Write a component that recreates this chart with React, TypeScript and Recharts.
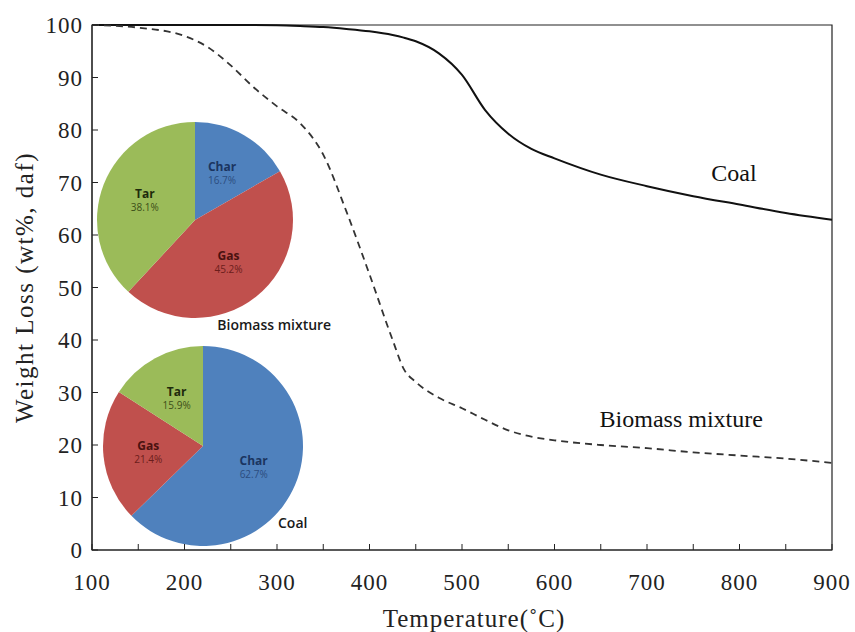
import { LineChart, Line, XAxis, YAxis, ReferenceArea, ReferenceDot, PieChart, Pie, Cell } from 'recharts';

// TGA curves: temperature (°C) vs remaining weight (wt%, daf)
const TEMPS = [100, 150, 200, 225, 250, 275, 300, 325, 350, 375, 400, 425, 437, 450, 475, 500, 525, 550, 575, 600, 650, 700, 750, 800, 850, 900];
const COAL = [100, 100, 100, 100, 100, 100, 99.95, 99.8, 99.6, 99.25, 98.8, 98.1, 97.6, 96.9, 94.6, 90.5, 83.8, 79.3, 76.4, 74.6, 71.5, 69.3, 67.4, 65.8, 64.2, 62.9];
const BIOMASS = [100, 99.5, 97.9, 95.8, 92.3, 88.1, 84.5, 81.3, 75.3, 64.5, 52.5, 40.0, 34.5, 32.0, 29.0, 27.0, 24.8, 22.8, 21.6, 20.9, 20.0, 19.4, 18.6, 18.0, 17.4, 16.6];

const X_TICKS = [100, 150, 200, 250, 300, 350, 400, 450, 500, 550, 600, 650, 700, 750, 800, 850, 900];
const Y_TICKS = [0, 10, 20, 30, 40, 50, 60, 70, 80, 90, 100];

// product yields (%) for the two inset pies
const PRODUCTS = ['Char', 'Gas', 'Tar'];
const BIOMASS_YIELD = [16.7, 45.2, 38.1];
const COAL_YIELD = [62.7, 21.4, 15.9];

const SLICE_FILL: Record<string, string> = { Char: '#4F81BD', Gas: '#C0504D', Tar: '#9BBB59' };
const NAME_INK: Record<string, string> = { Char: '#1B3560', Gas: '#4A1210', Tar: '#1E2A0C' };
const PCT_INK: Record<string, string> = { Char: '#2C4D80', Gas: '#6B1D1B', Tar: '#3B4F18' };

const rows = TEMPS.map((t, i) => ({ t, coal: COAL[i], biomass: BIOMASS[i] }));
const biomassSlices = PRODUCTS.map((name, i) => ({ name, value: BIOMASS_YIELD[i] }));
const coalSlices = PRODUCTS.map((name, i) => ({ name, value: COAL_YIELD[i] }));

const SERIF = '"Liberation Serif", "Times New Roman", serif';
const SANS = '"Open Sans", "Noto Sans", sans-serif';
const RADIAN = Math.PI / 180;

function sliceLabel(props: any) {
  const { cx, cy, midAngle, outerRadius, name, value } = props;
  const r = outerRadius * 0.55;
  const x = cx + r * Math.cos(-midAngle * RADIAN);
  const y = cy + r * Math.sin(-midAngle * RADIAN);
  return (
    <text x={x} y={y} textAnchor="middle" fontFamily={SANS}>
      <tspan x={x} dy={-2} fontSize={12} fontWeight={700} fill={NAME_INK[name]}>{name}</tspan>
      <tspan x={x} dy={13} fontSize={10} fill={PCT_INK[name]}>{Number(value).toFixed(1)}%</tspan>
    </text>
  );
}

const tickStyle = { fontFamily: SERIF, fontSize: 23, fill: '#222', letterSpacing: 1 };
const curveLabel = { fontFamily: SERIF, fontSize: 24, fill: '#111', position: 'center' as const };
const pieTitle = { fontFamily: SANS, fontSize: 14, fontWeight: 600, fill: '#1a1a1a', position: 'center' as const };

export default function App() {
  return (
    <div style={{ position: 'absolute', left: 0, top: 0, width: 855, height: 632, background: '#fff' }}>
      <div style={{ position: 'absolute', left: 0, top: 0 }}>
        <PieChart width={855} height={632} margin={{ top: 0, right: 0, bottom: 0, left: 0 }}>
          <Pie
            data={biomassSlices}
            dataKey="value"
            nameKey="name"
            cx={195}
            cy={220}
            outerRadius={98}
            startAngle={90}
            endAngle={-270}
            stroke="none"
            label={sliceLabel}
            labelLine={false}
            isAnimationActive={false}
          >
            {biomassSlices.map((s) => (
              <Cell key={s.name} fill={SLICE_FILL[s.name]} />
            ))}
          </Pie>
          <Pie
            data={coalSlices}
            dataKey="value"
            nameKey="name"
            cx={203}
            cy={446}
            outerRadius={100}
            startAngle={90}
            endAngle={-270}
            stroke="none"
            label={sliceLabel}
            labelLine={false}
            isAnimationActive={false}
          >
            {coalSlices.map((s) => (
              <Cell key={s.name} fill={SLICE_FILL[s.name]} />
            ))}
          </Pie>
        </PieChart>
      </div>
      <div style={{ position: 'absolute', left: 0, top: 0 }}>
        <LineChart width={855} height={632} data={rows} margin={{ top: 25, right: 23, bottom: 0, left: 0 }}>
          <ReferenceArea x1={100} x2={900} y1={0} y2={100} fill="none" stroke="#222" strokeWidth={1.2} />
          <XAxis
            dataKey="t"
            type="number"
            domain={[100, 900]}
            ticks={X_TICKS}
            interval={0}
            height={82}
            tickSize={-6}
            tickMargin={30}
            tickFormatter={(v: number) => (v % 100 === 0 ? String(v) : '')}
            tick={tickStyle}
            stroke="#222"
            label={{
              content: ({ viewBox }: any) => (
                <text
                  x={viewBox.x + viewBox.width / 2 + 12}
                  y={627}
                  textAnchor="middle"
                  fontFamily={SERIF}
                  fontSize={25}
                  letterSpacing={1}
                  fill="#222"
                >
                  Temperature(˚C)
                </text>
              ),
            }}
          />
          <YAxis
            type="number"
            domain={[0, 100]}
            ticks={Y_TICKS}
            interval={0}
            width={92}
            tickSize={-6}
            tickMargin={15}
            tick={tickStyle}
            stroke="#222"
            label={{
              content: ({ viewBox }: any) => {
                const x = viewBox.x + 24;
                const y = viewBox.y + viewBox.height / 2;
                return (
                  <text
                    x={x}
                    y={y}
                    transform={`rotate(-90 ${x} ${y})`}
                    textAnchor="middle"
                    dominantBaseline="central"
                    fontFamily={SERIF}
                    fontSize={25}
                    letterSpacing={1.5}
                    fill="#222"
                  >
                    Weight Loss (wt%, daf)
                  </text>
                );
              },
            }}
          />
          <Line type="monotone" dataKey="coal" stroke="#111" strokeWidth={2} dot={false} isAnimationActive={false} />
          <Line
            type="monotone"
            dataKey="biomass"
            stroke="#333"
            strokeWidth={1.8}
            strokeDasharray="7 5"
            dot={false}
            isAnimationActive={false}
          />
          <ReferenceDot x={794} y={72} r={0} stroke="none" label={{ value: 'Coal', ...curveLabel }} />
          <ReferenceDot x={737} y={25.1} r={0} stroke="none" label={{ value: 'Biomass mixture', ...curveLabel }} />
          <ReferenceDot x={297} y={42.9} r={0} stroke="none" label={{ value: 'Biomass mixture', ...pieTitle }} />
          <ReferenceDot x={317} y={5.1} r={0} stroke="none" label={{ value: 'Coal', ...pieTitle }} />
        </LineChart>
      </div>
    </div>
  );
}
